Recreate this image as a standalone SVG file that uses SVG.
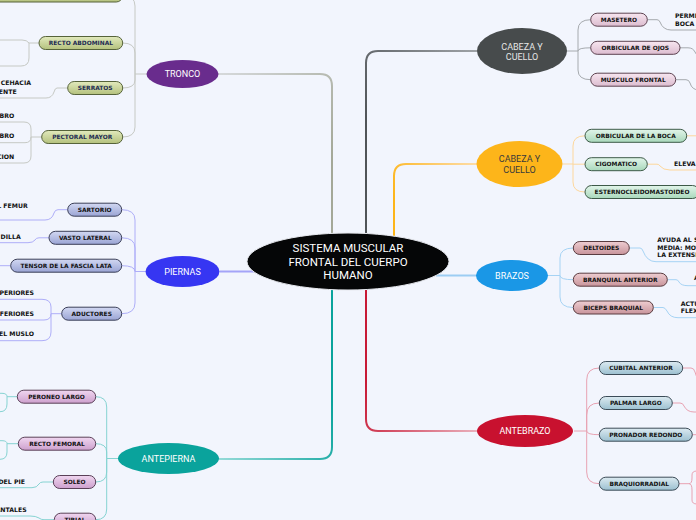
<svg xmlns="http://www.w3.org/2000/svg" width="696" height="520" viewBox="0 0 696 520">
<defs>
<linearGradient id="gGreen" x1="0" y1="0" x2="0" y2="1"><stop offset="0" stop-color="#e2eabd"/><stop offset="1" stop-color="#b4c17d"/></linearGradient>
<linearGradient id="gLav" x1="0" y1="0" x2="0" y2="1"><stop offset="0" stop-color="#d2d8f2"/><stop offset="1" stop-color="#9aa4d4"/></linearGradient>
<linearGradient id="gMauve" x1="0" y1="0" x2="0" y2="1"><stop offset="0" stop-color="#f0d6f0"/><stop offset="1" stop-color="#cda0cd"/></linearGradient>
<linearGradient id="gPink" x1="0" y1="0" x2="0" y2="1"><stop offset="0" stop-color="#f7e6f0"/><stop offset="1" stop-color="#dcbccf"/></linearGradient>
<linearGradient id="gMint" x1="0" y1="0" x2="0" y2="1"><stop offset="0" stop-color="#e2f5ea"/><stop offset="1" stop-color="#a9d8bb"/></linearGradient>
<linearGradient id="gRose" x1="0" y1="0" x2="0" y2="1"><stop offset="0" stop-color="#eecdd1"/><stop offset="1" stop-color="#c8949b"/></linearGradient>
<linearGradient id="gSteel" x1="0" y1="0" x2="0" y2="1"><stop offset="0" stop-color="#dceaf1"/><stop offset="1" stop-color="#9cc0d0"/></linearGradient>
<linearGradient id="sTronco" gradientUnits="userSpaceOnUse" x1="332" y1="160" x2="218" y2="74"><stop offset="0" stop-color="#a4a898"/><stop offset="1" stop-color="#d6d9db"/></linearGradient>
<linearGradient id="sCab" gradientUnits="userSpaceOnUse" x1="366" y1="120" x2="477" y2="51"><stop offset="0" stop-color="#505458"/><stop offset="1" stop-color="#9ea2a6"/></linearGradient>
<linearGradient id="sOr" gradientUnits="userSpaceOnUse" x1="394" y1="200" x2="477" y2="164"><stop offset="0" stop-color="#fdb51a"/><stop offset="1" stop-color="#fddca8"/></linearGradient>
<linearGradient id="sAnte" gradientUnits="userSpaceOnUse" x1="366" y1="380" x2="477" y2="431"><stop offset="0" stop-color="#c81a36"/><stop offset="1" stop-color="#eab0bc"/></linearGradient>
<linearGradient id="sPie" gradientUnits="userSpaceOnUse" x1="332" y1="400" x2="219" y2="459"><stop offset="0" stop-color="#0aa39c"/><stop offset="1" stop-color="#95dad8"/></linearGradient>
</defs>
<style>
.bg{fill:#f2f5fd}
.pill{stroke-width:1}
.pt{font-family:"DejaVu Sans",Verdana,sans-serif;font-weight:bold;font-size:5.9px;text-anchor:middle;fill:#111}
.ptn{fill:#1d2b52}
.lf{font-family:"DejaVu Sans",Verdana,sans-serif;font-weight:bold;font-size:6.2px;fill:#111}
.le{text-anchor:end}
.et{font-family:Roboto,"Liberation Sans",sans-serif;font-size:9px;text-anchor:middle;fill:#fff}
.ct{font-family:Roboto,"Liberation Sans",sans-serif;font-size:11.5px;text-anchor:middle;fill:#fff}
.c{fill:none;stroke-width:1}
.stem{fill:none;stroke-width:2}
</style>
<rect class="bg" x="0" y="0" width="696" height="520"/>

<g id="connectors">
<!-- main stems -->
<path class="stem" stroke="url(#sTronco)" d="M332 236 L332 86 Q332 74 320 74 L218 74"/>
<path class="stem" stroke="url(#sCab)" d="M366 234 L366 63 Q366 51 378 51 L477 51"/>
<path class="stem" stroke="url(#sOr)" d="M394 236 L394 176 Q394 164 406 164 L477 164"/>
<path class="stem" stroke="#9ccdf3" d="M436 275.5 L477 275.5"/>
<path class="stem" stroke="url(#sAnte)" d="M366 289 L366 419 Q366 431 378 431 L477 431"/>
<path class="stem" stroke="url(#sPie)" d="M332 289 L332 447 Q332 459 320 459 L219 459"/>
<path class="stem" stroke="#a4a4f8" d="M254 271.5 L220 271.5"/>

<!-- TRONCO hub -->
<g stroke="#c6c9c4" class="c">
<path d="M147 74 L135 74"/>
<path d="M122.7 -4.5 Q135 -4.5 135 6 L135 74"/>
<path d="M122.7 43 Q135 43 135 53 L135 74"/>
<path d="M122.7 88 Q135 88 135 80 L135 74"/>
<path d="M122.7 137 Q135 137 135 127 L135 74"/>
<path d="M39 43 L29 43 Q27 40 22 40 L-5 40"/>
<path d="M29 43 L29 58 Q29 66 21 66 L-5 66"/>
<path d="M67.7 88 L57 88 Q55 88 54 92 Q52 98 46 98 L-5 98"/>
<path d="M41.7 137 L31 137"/>
<path d="M31 137 L31 129 Q31 122 24 122 L-5 122"/>
<path d="M31 137 Q31 142.7 25 142.7 L-5 142.7"/>
<path d="M31 137 L31 156 Q31 163 24 163 L-5 163"/>
</g>

<!-- PIERNAS hub -->
<g stroke="#aeaef8" class="c">
<path d="M145.5 271.5 L135 271.5"/>
<path d="M121.7 209.7 Q135 209.7 135 220 L135 271.5"/>
<path d="M121.7 237.8 Q135 237.8 135 248 L135 271.5"/>
<path d="M121.7 265.7 Q135 265.7 135 271.5"/>
<path d="M121.7 313.7 Q135 313.7 135 303 L135 271.5"/>
<path d="M67.7 209.7 L58 209.7 Q55 209.7 54 213 Q52 220 45 220 L-5 220"/>
<path d="M49 237.8 L39 237.8 Q36 237.8 35 240 Q33 242.7 28 242.7 L-5 242.7"/>
<path d="M10.7 265.7 L-5 265.7"/>
<path d="M61.7 313.7 L51 313.7"/>
<path d="M51 313.7 L51 307 Q51 299.3 42 299.3 L-5 299.3"/>
<path d="M51 313.7 Q51 320 44 320 L-5 320"/>
<path d="M51 313.7 L51 332 Q51 340.7 42 340.7 L-5 340.7"/>
</g>

<!-- ANTEPIERNA hub -->
<g stroke="#86d3d2" class="c">
<path d="M118 458.5 L106.7 458.5"/>
<path d="M95.7 396.7 Q106.7 396.7 106.7 407 L106.7 458.5"/>
<path d="M95.7 443.7 Q106.7 443.7 106.7 452 L106.7 458.5"/>
<path d="M95.7 482 Q106.7 482 106.7 472 L106.7 458.5"/>
<path d="M95.7 519.7 Q106.7 519.7 106.7 509 L106.7 458.5"/>
<path d="M17.3 396.7 L7 396.7"/>
<path d="M7 396.7 Q7 393.3 2 393.3 L-5 393.3"/>
<path d="M7 396.7 L7 404 Q7 411.7 0 411.7 L-5 411.7"/>
<path d="M18.3 443.7 L7 443.7"/>
<path d="M7 443.7 Q7 440.7 2 440.7 L-5 440.7"/>
<path d="M7 443.7 L7 452 Q7 459.3 0 459.3 L-5 459.3"/>
<path d="M53.3 482 L43 482 Q40 482 39 484 Q37 487.7 32 487.7 L-5 487.7"/>
<path d="M54.3 519.7 L44 519.7 Q41 519.7 39 518 Q36 516 30 516 L-5 516"/>
</g>

<!-- CABEZA (dark) hub -->
<g stroke="#a6aaae" class="c">
<path d="M567 51 L578 51"/>
<path d="M590.7 19.7 Q578 19.7 578 30 L578 51"/>
<path d="M590.7 47.8 Q578 47.8 578 51"/>
<path d="M590.7 79.7 Q578 79.7 578 70 L578 51"/>
<path d="M647.3 19.7 L657 19.7 Q659 19.7 660 22 Q663 30 671 30 L700 30"/>
<path d="M680 47.8 L688 47.8 Q693 47.8 695 52 L698 57"/>
<path d="M675.7 79.7 L686 79.7 Q689 79.7 690 83 Q692 90 699 90"/>
</g>

<!-- CABEZA (orange) hub -->
<g stroke="#fdd79c" class="c">
<path d="M562.5 164 L573 164"/>
<path d="M585 135.8 Q573 135.8 573 146 L573 164"/>
<path d="M585 164.2 L573 164.2"/>
<path d="M585 192 Q573 192 573 182 L573 164"/>
<path d="M686.7 135.8 L700 135.8"/>
<path d="M647.3 164.2 L657 164.2 Q659 164.2 660 166 Q663 170 670 170 L700 170"/>
</g>

<!-- BRAZOS hub -->
<g stroke="#a6d3f4" class="c">
<path d="M548 275.5 L560 275.5"/>
<path d="M573.3 248 Q560 248 560 258 L560 275.5"/>
<path d="M573.3 279.7 Q560 279.7 560 275.5"/>
<path d="M573.3 307.5 Q560 307.5 560 297 L560 275.5"/>
<path d="M629.3 248 L640 248 Q642 248 643 251 Q647 261.7 656 261.7 L700 261.7"/>
<path d="M667.3 279.7 L676 279.7 Q678 279.7 679 282 Q681 285.7 688 285.7 L700 285.7"/>
<path d="M653.3 307.5 L663 307.5 Q665 307.5 667 311 Q670 317.7 678 317.7 L700 317.7"/>
</g>

<!-- ANTEBRAZO hub -->
<g stroke="#e8a2b2" class="c">
<path d="M574 431 L586.7 431"/>
<path d="M599.3 368 Q586.7 368 586.7 380 L586.7 431"/>
<path d="M599.3 403 Q586.7 403 586.7 415 L586.7 431"/>
<path d="M599.3 434.7 Q586.7 434.7 586.7 431"/>
<path d="M599.3 483.7 Q586.7 483.7 586.7 472 L586.7 431"/>
<path d="M682.7 368 L691 368 Q694 368 695 372 L697 378"/>
<path d="M672.3 403 L680 403 Q683 403 684 406 Q687 412 694 412 L700 412"/>
<path d="M692.3 434.7 L700 434.7"/>
<path d="M679 483.7 L689 483.7"/>
<path d="M689 483.7 Q692 483.7 692 478 L692 475 Q692 471 697 471"/>
<path d="M689 483.7 Q692 483.7 692 490 L692 500 Q692 504 697 504"/>
</g>
</g>

<!-- central node -->
<g id="center">
<ellipse cx="348" cy="261.5" rx="101" ry="28.5" fill="#050607" stroke="#e6e8ee" stroke-width="1"/>
<text class="ct" x="348" y="252">SISTEMA MUSCULAR</text>
<text class="ct" x="348" y="265.5">FRONTAL DEL CUERPO</text>
<text class="ct" x="348" y="279">HUMANO</text>
</g>

<!-- main topic nodes -->
<g id="tronco"><ellipse cx="182.5" cy="74" rx="36" ry="14" fill="#692c8d"/><text class="et" x="182.5" y="77.2">TRONCO</text></g>
<g id="piernas"><ellipse cx="182.5" cy="271.5" rx="37" ry="15.5" fill="#3636f2"/><text class="et" x="182.5" y="274.7">PIERNAS</text></g>
<g id="antepierna"><ellipse cx="168.5" cy="458.5" rx="50.5" ry="15.5" fill="#0aa39c"/><text class="et" x="168.5" y="461.7">ANTEPIERNA</text></g>
<g id="cabeza1"><ellipse cx="522" cy="51" rx="45" ry="23" fill="#474b4c"/><text class="et" x="522" y="50" fill="#e6e6e6" style="fill:#e6e6e6">CABEZA Y</text><text class="et" x="522" y="60" style="fill:#e6e6e6">CUELLO</text></g>
<g id="cabeza2"><ellipse cx="519.5" cy="164" rx="43" ry="23" fill="#fdb51a"/><text class="et" x="519.5" y="162.3" style="fill:#3a3a3a">CABEZA Y</text><text class="et" x="519.5" y="173.3" style="fill:#3a3a3a">CUELLO</text></g>
<g id="brazos"><ellipse cx="512" cy="275.5" rx="36" ry="15.5" fill="#1a97e6"/><text class="et" x="512" y="278.7">BRAZOS</text></g>
<g id="antebrazo"><ellipse cx="525" cy="431" rx="48" ry="16" fill="#c8112f"/><text class="et" x="525" y="434.2">ANTEBRAZO</text></g>

<!-- TRONCO children -->
<g id="tr-top"><rect class="pill" x="-10" y="-11" width="132.7" height="13" rx="6.5" fill="url(#gGreen)" stroke="#56633a"/></g>
<g id="recto-abdominal"><rect class="pill" x="39" y="36.5" width="83.7" height="13" rx="6.5" fill="url(#gGreen)" stroke="#56633a"/><text class="pt ptn" x="80.9" y="45.1">RECTO ABDOMINAL</text></g>
<g id="serratos"><rect class="pill" x="67.7" y="81.5" width="55" height="13" rx="6.5" fill="url(#gGreen)" stroke="#56633a"/><text class="pt ptn" x="95.2" y="90.1">SERRATOS</text></g>
<g id="pectoral-mayor"><rect class="pill" x="41.7" y="130.5" width="81" height="13" rx="6.5" fill="url(#gGreen)" stroke="#56633a"/><text class="pt ptn" x="82.2" y="139.1">PECTORAL MAYOR</text></g>
<g id="tr-leaves">
<text class="lf le" x="31" y="85.2">CEHACIA</text>
<text class="lf le" x="16.7" y="94.2">ENTE</text>
<text class="lf le" x="14.3" y="118">BRO</text>
<text class="lf le" x="14.3" y="138">BRO</text>
<text class="lf le" x="14.3" y="159">CION</text>
</g>

<!-- PIERNAS children -->
<g id="sartorio"><rect class="pill" x="67.7" y="203.2" width="54" height="13" rx="6.5" fill="url(#gLav)" stroke="#3b3f58"/><text class="pt" x="94.7" y="211.8">SARTORIO</text></g>
<g id="vasto-lateral"><rect class="pill" x="49" y="231.3" width="72.7" height="13" rx="6.5" fill="url(#gLav)" stroke="#3b3f58"/><text class="pt" x="85.3" y="239.9">VASTO LATERAL</text></g>
<g id="tensor"><rect class="pill" x="10.7" y="259.2" width="111" height="13" rx="6.5" fill="url(#gLav)" stroke="#3b3f58"/><text class="pt" x="66.2" y="267.8">TENSOR DE LA FASCIA LATA</text></g>
<g id="aductores"><rect class="pill" x="61.7" y="307.2" width="60" height="13" rx="6.5" fill="url(#gLav)" stroke="#3b3f58"/><text class="pt" x="91.7" y="315.8">ADUCTORES</text></g>
<g id="pi-leaves">
<text class="lf le" x="27.7" y="208">L FEMUR</text>
<text class="lf le" x="20.7" y="239">DILLA</text>
<text class="lf le" x="34" y="295">PERIORES</text>
<text class="lf le" x="34" y="316">FERIORES</text>
<text class="lf le" x="34" y="335.5">EL MUSLO</text>
</g>

<!-- ANTEPIERNA children -->
<g id="peroneo-largo"><rect class="pill" x="17.3" y="390.2" width="78.4" height="13" rx="6.5" fill="url(#gMauve)" stroke="#5a4058"/><text class="pt" x="56.5" y="398.8">PERONEO LARGO</text></g>
<g id="recto-femoral"><rect class="pill" x="18.3" y="437.2" width="77.4" height="13" rx="6.5" fill="url(#gMauve)" stroke="#5a4058"/><text class="pt" x="57" y="445.8">RECTO FEMORAL</text></g>
<g id="soleo"><rect class="pill" x="53.3" y="475.5" width="42.4" height="13" rx="6.5" fill="url(#gMauve)" stroke="#5a4058"/><text class="pt" x="74.5" y="484.1">SOLEO</text></g>
<g id="tibial"><rect class="pill" x="54.3" y="513.2" width="41.4" height="13" rx="6.5" fill="url(#gMauve)" stroke="#5a4058"/><text class="pt" x="75" y="521.8">TIBIAL</text></g>
<g id="ap-leaves">
<text class="lf le" x="25" y="484">DEL PIE</text>
<text class="lf le" x="26.7" y="511.5">ANTALES</text>
</g>

<!-- CABEZA (dark) children -->
<g id="masetero"><rect class="pill" x="590.7" y="13.2" width="56.6" height="13" rx="6.5" fill="url(#gPink)" stroke="#5e4452"/><text class="pt" x="619" y="21.8">MASETERO</text></g>
<g id="orbicular-ojos"><rect class="pill" x="590.7" y="41.3" width="89.3" height="13" rx="6.5" fill="url(#gPink)" stroke="#5e4452"/><text class="pt" x="635.3" y="49.9">ORBICULAR DE OJOS</text></g>
<g id="musculo-frontal"><rect class="pill" x="590.7" y="73.2" width="85" height="13" rx="6.5" fill="url(#gPink)" stroke="#5e4452"/><text class="pt" x="633.2" y="81.8">MUSCULO FRONTAL</text></g>
<g id="cb-leaves">
<text class="lf" x="675" y="18">PERMI</text>
<text class="lf" x="675" y="25.6">BOCA</text>
</g>

<!-- CABEZA (orange) children -->
<g id="orbicular-boca"><rect class="pill" x="585" y="129.3" width="101.7" height="13" rx="6.5" fill="url(#gMint)" stroke="#3d5a48"/><text class="pt" x="635.8" y="137.9">ORBICULAR DE LA BOCA</text></g>
<g id="cigomatico"><rect class="pill" x="585" y="157.7" width="62.3" height="13" rx="6.5" fill="url(#gMint)" stroke="#3d5a48"/><text class="pt" x="616.2" y="166.3">CIGOMATICO</text></g>
<g id="esternocleidomastoideo"><rect class="pill" x="585" y="185.5" width="114" height="13" rx="6.5" fill="url(#gMint)" stroke="#3d5a48"/><text class="pt" x="642" y="194.1">ESTERNOCLEIDOMASTOIDEO</text></g>
<g id="co-leaves"><text class="lf" x="674" y="165.6">ELEVA</text></g>

<!-- BRAZOS children -->
<g id="deltoides"><rect class="pill" x="573.3" y="241.5" width="56" height="13" rx="6.5" fill="url(#gRose)" stroke="#5a3c40"/><text class="pt" x="601.3" y="250.1">DELTOIDES</text></g>
<g id="branquial-anterior"><rect class="pill" x="573.3" y="273.2" width="94" height="13" rx="6.5" fill="url(#gRose)" stroke="#5a3c40"/><text class="pt" x="620.3" y="281.8">BRANQUIAL ANTERIOR</text></g>
<g id="biceps-braquial"><rect class="pill" x="573.3" y="301" width="80" height="13" rx="6.5" fill="url(#gRose)" stroke="#5a3c40"/><text class="pt" x="613.3" y="309.6">BICEPS BRAQUIAL</text></g>
<g id="br-leaves">
<text class="lf" x="657.3" y="242.3">AYUDA AL S</text>
<text class="lf" x="657.3" y="249.7">MEDIA: MOT</text>
<text class="lf" x="657.3" y="257.2">LA EXTENSI</text>
<text class="lf" x="694" y="280.4">A</text>
<text class="lf" x="680.7" y="305.5">ACTU</text>
<text class="lf" x="680.7" y="313">FLEX</text>
</g>

<!-- ANTEBRAZO children -->
<g id="cubital-anterior"><rect class="pill" x="599.3" y="361.5" width="83.4" height="13" rx="6.5" fill="url(#gSteel)" stroke="#3c4c58"/><text class="pt" x="641" y="370.1">CUBITAL ANTERIOR</text></g>
<g id="palmar-largo"><rect class="pill" x="599.3" y="396.5" width="73" height="13" rx="6.5" fill="url(#gSteel)" stroke="#3c4c58"/><text class="pt" x="635.8" y="405.1">PALMAR LARGO</text></g>
<g id="pronador-redondo"><rect class="pill" x="599.3" y="428.2" width="93" height="13" rx="6.5" fill="url(#gSteel)" stroke="#3c4c58"/><text class="pt" x="645.8" y="436.8">PRONADOR REDONDO</text></g>
<g id="braquiorradial"><rect class="pill" x="599.3" y="477.2" width="79.7" height="13" rx="6.5" fill="url(#gSteel)" stroke="#3c4c58"/><text class="pt" x="639.2" y="485.8">BRAQUIORRADIAL</text></g>
</svg>
